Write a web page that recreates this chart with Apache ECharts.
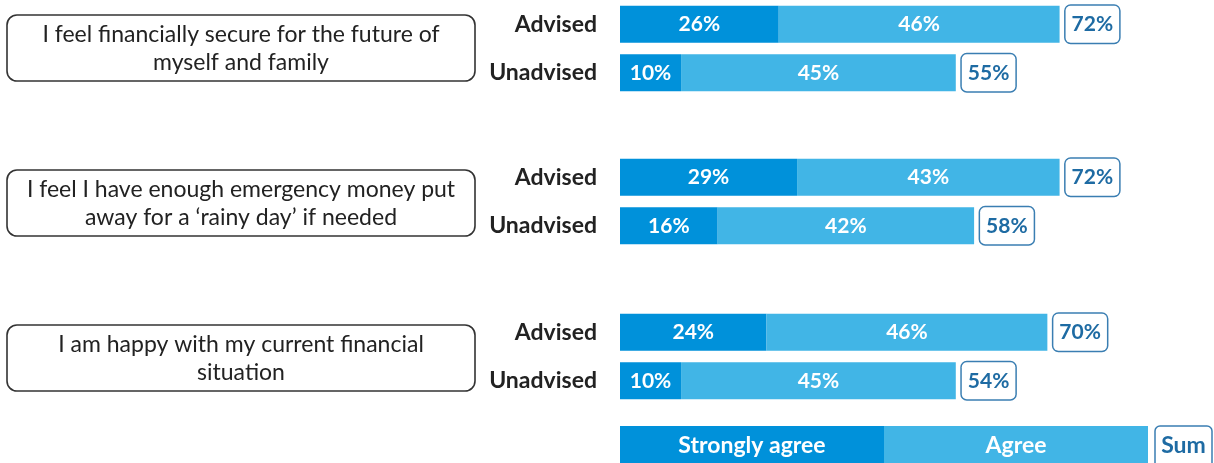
<!DOCTYPE html>
<html>
<head>
<meta charset="utf-8">
<script src="https://cdn.jsdelivr.net/npm/echarts@6/dist/echarts.min.js"></script>
<style>
html,body{margin:0;padding:0;background:#fff;}
#c{width:1214px;height:463px;}
</style>
</head>
<body>
<div id="c"></div>
<script>
// ---- data ----
var statements = [
  ['I feel financially secure for the future of', 'myself and family'],
  ['I feel I have enough emergency money put', 'away for a \u2018rainy day\u2019 if needed'],
  ['I am happy with my current financial', 'situation']
];
var groups = ['Advised', 'Unadvised'];
var stronglyAgree = [[26, 10], [29, 16], [24, 10]];
var agree = [[46, 45], [43, 42], [46, 45]];
var sums = [[72, 55], [72, 58], [70, 54]];
var legendNames = ['Strongly agree', 'Agree', 'Sum'];

// ---- layout ----
var FONT = 'Lato, "Open Sans", sans-serif';
var C_DARK = '#0091DA';
var C_LIGHT = '#41B5E6';
var C_SUM = '#1E6BA3';
var gridTops = [0, 153, 308];
var boxTops = [15, 170, 325];

var grids = [], xAxes = [], yAxes = [], series = [], graphics = [];
for (var g = 0; g < 3; g++) {
  (function (g) {
    grids.push({ left: 620, top: gridTops[g], width: 580, height: 97 });
    xAxes.push({ type: 'value', gridIndex: g, min: 0, max: 95, show: false });
    yAxes.push({
      type: 'category', gridIndex: g, data: groups, inverse: true,
      axisLine: { show: false }, axisTick: { show: false },
      axisLabel: { margin: 23, fontFamily: FONT, fontSize: 23, fontWeight: 'bold', color: '#222' }
    });
    var inLabel = { show: true, position: 'inside', formatter: '{c}%', color: '#fff',
      fontFamily: FONT, fontSize: 21, fontWeight: 'bold' };
    series.push({
      type: 'bar', name: legendNames[0], xAxisIndex: g, yAxisIndex: g, stack: 's' + g,
      data: stronglyAgree[g], barWidth: 37,
      itemStyle: { color: C_DARK }, label: inLabel, silent: true
    });
    series.push({
      type: 'bar', name: legendNames[1], xAxisIndex: g, yAxisIndex: g, stack: 's' + g,
      data: agree[g], barWidth: 37,
      itemStyle: { color: C_LIGHT }, label: inLabel, silent: true
    });
    // sum marker: zero-length segment at the end of the stack carrying the sum label
    series.push({
      type: 'bar', name: legendNames[2], xAxisIndex: g, yAxisIndex: g, stack: 's' + g,
      data: sums[g].map(function () { return 0; }), barWidth: 37,
      itemStyle: { color: 'rgba(0,0,0,0)' }, silent: true,
      label: {
        show: true, position: 'right', distance: 6,
        formatter: function (p) { return sums[g][p.dataIndex] + '%'; },
        color: C_SUM, fontFamily: FONT, fontSize: 21, fontWeight: 'bold',
        backgroundColor: '#fff', borderColor: '#3A7EB2', borderWidth: 1.5, borderRadius: 5,
        padding: [8, 6, 7, 6], lineHeight: 22
      }
    });
    graphics.push({
      type: 'rect', shape: { x: 7, y: boxTops[g], width: 468, height: 66, r: 10 },
      style: { fill: '#fff', stroke: '#333', lineWidth: 1.6 }
    });
    graphics.push({
      type: 'text', x: 241, y: boxTops[g] + 34,
      style: { text: statements[g].join('\n'), align: 'center', verticalAlign: 'middle',
        font: '23px ' + FONT, fill: '#222', lineHeight: 28 }
    });
  })(g);
}

// legend
graphics.push({ type: 'rect', shape: { x: 620, y: 426, width: 264, height: 40 }, style: { fill: C_DARK } });
graphics.push({ type: 'text', x: 752, y: 446, style: { text: legendNames[0], align: 'center', verticalAlign: 'middle', font: 'bold 23px ' + FONT, fill: '#fff' } });
graphics.push({ type: 'rect', shape: { x: 884, y: 426, width: 264, height: 40 }, style: { fill: C_LIGHT } });
graphics.push({ type: 'text', x: 1016, y: 446, style: { text: legendNames[1], align: 'center', verticalAlign: 'middle', font: 'bold 23px ' + FONT, fill: '#fff' } });
graphics.push({ type: 'rect', shape: { x: 1155, y: 426, width: 57, height: 42, r: 5 }, style: { fill: '#fff', stroke: '#3A7EB2', lineWidth: 1.5 } });
graphics.push({ type: 'text', x: 1183.5, y: 446, style: { text: legendNames[2], align: 'center', verticalAlign: 'middle', font: 'bold 23px ' + FONT, fill: C_SUM } });

var chart = echarts.init(document.getElementById('c'), null, { renderer: 'canvas' });
chart.setOption({
  animation: false,
  grid: grids, xAxis: xAxes, yAxis: yAxes, series: series, graphic: graphics
});
</script>
</body>
</html>
